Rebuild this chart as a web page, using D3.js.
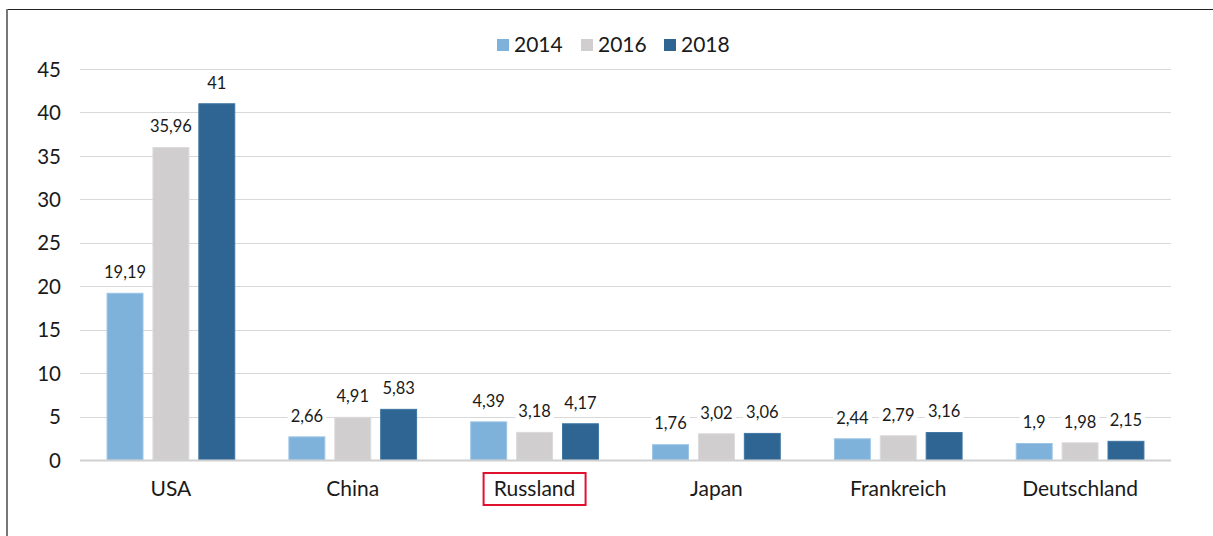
<!DOCTYPE html>
<html><head><meta charset="utf-8">
<script src="https://cdn.jsdelivr.net/npm/d3@7"></script>
<style>body{margin:0;background:#fff;font-family:Lato,"Open Sans",sans-serif}</style>
</head><body><svg id="c" width="1213" height="536"></svg>
<script>
const categories = ["USA","China","Russland","Japan","Frankreich","Deutschland"];
const seriesNames = ["2014","2016","2018"];
const v2014 = [19.19,2.66,4.39,1.76,2.44,1.9];
const v2016 = [35.96,4.91,3.18,3.02,2.79,1.98];
const v2018 = [41,5.83,4.17,3.06,3.16,2.15];
const yTicks = [0,5,10,15,20,25,30,35,40,45];
const colors = ["#7fb2db","#d0cece","#2e6592"];
const strokes = ["#9cc4e4","#dcdada","#3f76a3"];
const series = [v2014,v2016,v2018];

const svg = d3.select("#c");
const W=1213,H=536;
const m={l:80,r:1171,t:69,b:460};
// frame
svg.append("line").attr("x1",7).attr("x2",W).attr("y1",9.5).attr("y2",9.5).attr("stroke","#222").attr("stroke-width",1.2);
svg.append("line").attr("x1",7).attr("x2",7).attr("y1",9).attr("y2",H).attr("stroke","#777").attr("stroke-width",2);

const x = d3.scaleBand().domain(categories).range([m.l,m.r]).paddingInner(0).paddingOuter(0);
const y = d3.scaleLinear().domain([0,45]).range([m.b,m.t]);
const x1 = d3.scaleBand().domain(seriesNames).range([0,x.bandwidth()]).paddingInner(0.217).paddingOuter(0.59);

// grid
svg.append("g").selectAll("line").data(yTicks.filter(d=>d>0)).join("line")
 .attr("x1",m.l).attr("x2",m.r).attr("y1",d=>Math.round(y(d))+0.5).attr("y2",d=>Math.round(y(d))+0.5)
 .attr("stroke","#d9d9d9").attr("stroke-width",1);

const yAxis = d3.axisLeft(y).tickValues(yTicks).tickSize(0).tickPadding(0).tickFormat(d=>d);
const ga = svg.append("g").attr("transform",`translate(${m.l-19},0)`).call(yAxis);
ga.select(".domain").remove();
ga.selectAll("text").attr("font-size",20.5).attr("fill","#1a1a1a").attr("font-family","Lato").attr("dy","0.35em");

// bars
const groups = svg.append("g").selectAll("g").data(categories).join("g")
 .attr("transform",d=>`translate(${x(d)},0)`);
seriesNames.forEach((s,si)=>{
  groups.append("rect")
   .attr("x",x1(s)).attr("width",x1.bandwidth())
   .attr("y",(d,i)=>y(series[si][i])).attr("height",(d,i)=>y(0)-y(series[si][i]))
   .attr("fill",colors[si]).attr("stroke",strokes[si]).attr("stroke-width",1);
});

// baseline
svg.append("line").attr("x1",m.l).attr("x2",m.r).attr("y1",y(0)+0.5).attr("y2",y(0)+0.5).attr("stroke","#d0d0d0").attr("stroke-width",2);

// labels
const fmt = v=>String(v).replace(".",",");
seriesNames.forEach((s,si)=>{
  const lg = groups.append("g").attr("transform",(d,i)=>`translate(${x1(s)+x1.bandwidth()/2},${y(series[si][i])-21})`);
  lg.each(function(d,i){
    const g=d3.select(this);
    const t=g.append("text").attr("text-anchor","middle").attr("dy","0.35em").attr("font-size",16.5).attr("fill","#1a1a1a").attr("font-family","Lato").text(fmt(series[si][i]));
    const bb=t.node().getBBox();
    g.insert("rect","text").attr("x",bb.x-3).attr("y",bb.y-1).attr("width",bb.width+6).attr("height",bb.height+2).attr("fill","#fff");
  });
});

// x axis labels
const xAxis = d3.axisBottom(x).tickSize(0).tickPadding(0);
const gx = svg.append("g").attr("transform",`translate(0,${m.b+29})`).call(xAxis);
gx.select(".domain").remove();
gx.selectAll("text").attr("font-size",21).attr("fill","#1a1a1a").attr("font-family","Lato").attr("dy","0.35em");
// highlight box
gx.selectAll(".tick").filter(d=>d==="Russland").each(function(){
  const t=d3.select(this).select("text");
  const bb=t.node().getBBox();
  d3.select(this).insert("rect","text").attr("x",-51).attr("y",-16).attr("width",102).attr("height",32)
   .attr("fill","none").attr("stroke","#e0102f").attr("stroke-width",2);
});

// legend
const leg = svg.append("g").attr("transform","translate(497,45)");
const lx=[0,84,167];
seriesNames.forEach((s,i)=>{
  const g=leg.append("g").attr("transform",`translate(${lx[i]},0)`);
  g.append("rect").attr("x",0).attr("y",-6).attr("width",12).attr("height",12).attr("fill",colors[i]);
  g.append("text").attr("x",17).attr("dy","0.35em").attr("font-size",21).attr("fill","#1a1a1a").attr("font-family","Lato").text(s);
});
</script></body></html>
